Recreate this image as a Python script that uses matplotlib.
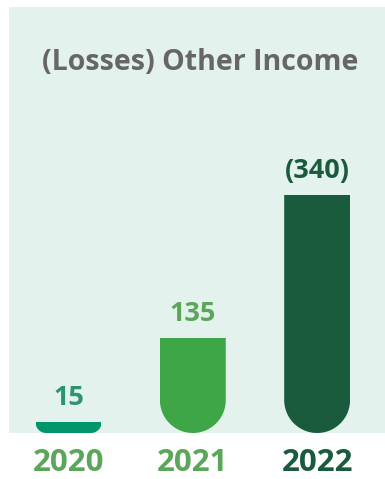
import matplotlib
matplotlib.use("Agg")
import numpy as np
import matplotlib.pyplot as plt
from matplotlib.path import Path
from matplotlib.patches import PathPatch
from matplotlib.transforms import IdentityTransform

plt.rcParams["font.family"] = ["Open Sans", "DejaVu Sans"]

years = ["2020", "2021", "2022"]
values = [15, 135, 340]
value_labels = ["15", "135", "(340)"]

bar_colors = ["#00956A", "#3FA647", "#1A5B3E"]
value_colors = ["#2C9471", "#5AA75A", "#1A5B3E"]
year_colors = ["#5AA75A", "#5AA75A", "#1A5B3E"]
panel_color = "#E3F2ED"
title_color = "#666666"

W, H = 385, 479
fig = plt.figure(figsize=(W / 100, H / 100), dpi=100)
ax = fig.add_axes([9 / W, (H - 433) / H, 376 / W, 426 / H])
ax.set_facecolor(panel_color)
for s in ax.spines.values():
    s.set_visible(False)

x = list(range(len(years)))
bars = ax.bar(x, values, width=0.53, color=bar_colors, linewidth=0)
ax.set_xlim(-0.479, 2.546)
ax.set_ylim(0, 608)
ax.set_xticks([])
ax.set_yticks([])


def bottom_rounded(bb, r, n=32):
    # circular arcs at the two bottom corners, top pushed past the bar so the bar's own edge stays square
    a1 = np.linspace(np.pi, 1.5 * np.pi, n)
    a2 = np.linspace(1.5 * np.pi, 2 * np.pi, n)
    left = np.column_stack([bb.x0 + r + r * np.cos(a1), bb.y0 + r + r * np.sin(a1)])
    right = np.column_stack([bb.x1 - r + r * np.cos(a2), bb.y0 + r + r * np.sin(a2)])
    top = np.array([[bb.x1, bb.y1 + r + 5], [bb.x0, bb.y1 + r + 5], [bb.x0, bb.y0 + r]])
    verts = np.vstack([left, right, top])
    codes = [Path.MOVETO] + [Path.LINETO] * (len(verts) - 2) + [Path.CLOSEPOLY]
    return Path(verts, codes)


fig.canvas.draw()
for b in bars:
    bb = b.get_window_extent()
    r = min(bb.width / 2, bb.height)
    b.set_clip_path(PathPatch(bottom_rounded(bb, r), transform=IdentityTransform()))

for xi, v, t, c in zip(x, values, value_labels, value_colors):
    ax.annotate(t, (xi, v), xytext=(0, 8), textcoords="offset points",
                ha="center", va="bottom", fontsize=19.5, fontweight="bold", color=c)

for xi, yr, c in zip(x, years, year_colors):
    ax.annotate(yr, (xi, 0), xycoords=("data", "axes fraction"), xytext=(0, -27.4),
                textcoords="offset points", ha="center", va="baseline",
                fontsize=22.5, fontweight="bold", color=c, annotation_clip=False)

fig.text(200.5 / W, 1 - 62 / H, "(Losses) Other Income", ha="center", va="center",
         fontsize=20.5, fontweight="bold", color=title_color)

fig.savefig("out.png", dpi=100, facecolor="white")
